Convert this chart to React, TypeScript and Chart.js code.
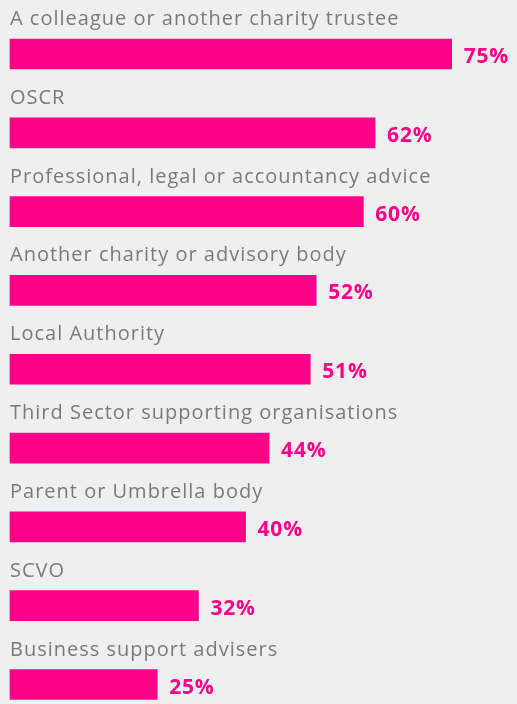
import React, { useEffect, useRef } from "react";
import { Chart, registerables } from "chart.js";

Chart.register(...registerables);

const categories: string[] = [
  "A colleague or another charity trustee",
  "OSCR",
  "Professional, legal or accountancy advice",
  "Another charity or advisory body",
  "Local Authority",
  "Third Sector supporting organisations",
  "Parent or Umbrella body",
  "SCVO",
  "Business support advisers",
];

const values: number[] = [75, 62, 60, 52, 51, 44, 40, 32, 25];

const PINK = "#ff0088";
const GREY_TEXT = "#7a7a7a";
const BG = "#efefef";
const FONT = "'Open Sans', sans-serif";

const labelPlugin = {
  id: "barLabels",
  beforeDraw(chart: any) {
    const { ctx, width, height } = chart;
    ctx.save();
    ctx.fillStyle = BG;
    ctx.fillRect(0, 0, width, height);
    ctx.restore();
  },
  afterDatasetsDraw(chart: any) {
    const { ctx } = chart;
    const meta = chart.getDatasetMeta(0);
    ctx.save();
    meta.data.forEach((bar: any, i: number) => {
      const base = bar.base;
      ctx.textBaseline = "alphabetic";
      ctx.textAlign = "left";
      ctx.fillStyle = GREY_TEXT;
      ctx.font = `400 20px ${FONT}`;
      (ctx as any).letterSpacing = "1px";
      ctx.fillText(categories[i], base, bar.y - 29);
      ctx.fillStyle = PINK;
      ctx.font = `700 21px ${FONT}`;
      (ctx as any).letterSpacing = "0.8px";
      ctx.fillText(`${values[i]}%`, bar.x + 12, bar.y + 9);
    });
    ctx.restore();
  },
};

export default function App() {
  const canvasRef = useRef<HTMLCanvasElement>(null);

  useEffect(() => {
    document.body.style.margin = "0";
    document.body.style.background = BG;
    const canvas = canvasRef.current;
    if (!canvas) return;
    const chart = new Chart(canvas, {
      type: "bar",
      data: {
        labels: categories,
        datasets: [
          {
            data: values,
            backgroundColor: PINK,
            borderWidth: 0,
            barThickness: 30,
            clip: false as any,
          },
        ],
      },
      options: {
        indexAxis: "y",
        animation: false,
        responsive: true,
        maintainAspectRatio: false,
        layout: { padding: { left: 10, right: 0, top: 54, bottom: 19.5 } },
        plugins: {
          legend: { display: false },
          tooltip: { enabled: false },
        },
        scales: {
          x: { display: false, min: 0, max: 86.1 },
          y: { display: false, offset: false },
        },
      },
      plugins: [labelPlugin],
    });
    return () => chart.destroy();
  }, []);

  return (
    <div style={{ width: 517, height: 704, position: "relative", background: BG }}>
      <canvas ref={canvasRef} />
    </div>
  );
}
